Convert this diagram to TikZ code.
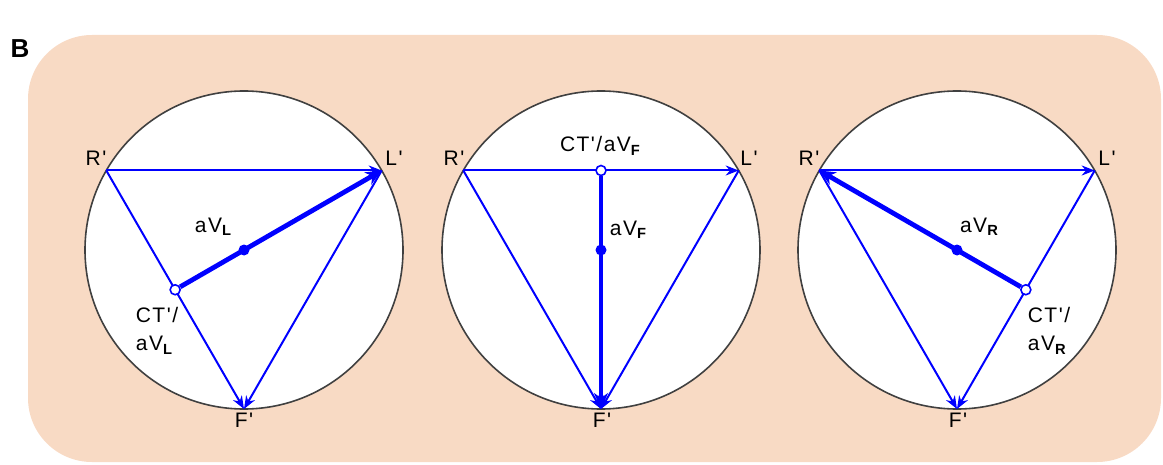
\documentclass[tikz,border=0pt]{standalone}
\usepackage{fontspec}
\setmainfont{Liberation Sans}[Ligatures=TeXOff]
\newfontfamily\lblfont{Liberation Sans}[Ligatures=TeXOff, LetterSpace=7]
\usepackage{xcolor}
\definecolor{peach}{RGB}{248,218,196}
\definecolor{vecblue}{RGB}{0,0,255}
\usetikzlibrary{arrows.meta, positioning, calc}

\begin{document}
\begin{tikzpicture}[x=0.5pt, y=-0.5pt,
    ring/.style={draw=black!75, line width=0.8pt, fill=white},
    side/.style={draw=vecblue, line width=1pt, -{Stealth[length=6.5pt, width=5pt]}},
    axis/.style={draw=vecblue, line width=2.4pt, -{Stealth[length=8pt, width=7pt]}},
    ctdot/.style={circle, draw=vecblue, fill=white, line width=0.8pt,
      inner sep=0pt, minimum size=5pt},
    middot/.style={circle, fill=vecblue, inner sep=0pt, minimum size=5.5pt},
    lbl/.style={font=\lblfont\fontsize{10.5}{14}\selectfont, inner sep=0pt, align=left}
]
\useasboundingbox (0,0) rectangle (1163,465);
\fill[peach, rounded corners=32pt] (28,35) rectangle (1161,462);
\node[font=\fontsize{13}{15}\selectfont\bfseries] (panel) at (20,49) {B};

% left: CT' on R'F'
\coordinate (c1) at (244,250);
\coordinate (R1) at ($(c1)+(210:159)$);
\coordinate (L1) at ($(c1)+(330:159)$);
\coordinate (F1) at ($(c1)+(90:159)$);
\coordinate (m1) at ($(R1)!0.5!(F1)$);
\draw[ring] (c1) circle[radius=159];
\draw[side] (R1) -- (L1);
\draw[side] (R1) -- (F1);
\draw[side] (L1) -- (F1);
\node[ctdot] (ct1) at (m1) {};
\draw[axis] (ct1) -- (L1);
\node[middot] (o1) at (c1) {};
\node[lbl] (r1) at (96,158) {R'};
\node[lbl] (l1) at (394,158) {L'};
\node[lbl] (f1) at (244,420) {F'};
\node[lbl] (v1) at (214,227) {aV\textsubscript{\textbf{L}}};
\node[lbl] (t1) at (157,331) {CT'/\\aV\textsubscript{\textbf{L}}};

% middle: CT' on R'L'
\coordinate (c2) at (601,250);
\coordinate (R2) at ($(c2)+(210:159)$);
\coordinate (L2) at ($(c2)+(330:159)$);
\coordinate (F2) at ($(c2)+(90:159)$);
\coordinate (m2) at ($(R2)!0.5!(L2)$);
\draw[ring] (c2) circle[radius=159];
\draw[side] (R2) -- (L2);
\draw[side] (R2) -- (F2);
\draw[side] (L2) -- (F2);
\node[ctdot] (ct2) at (m2) {};
\draw[axis] (ct2) -- (F2);
\node[middot] (o2) at (c2) {};
\node[lbl] (r2) at (454,158) {R'};
\node[lbl] (l2) at (749,158) {L'};
\node[lbl] (f2) at (602,420) {F'};
\node[lbl] (v2) at (629,230) {aV\textsubscript{\textbf{F}}};
\node[lbl] (t2) at (601,146) {CT'/aV\textsubscript{\textbf{F}}};

% right: CT' on L'F'
\coordinate (c3) at (957,250);
\coordinate (R3) at ($(c3)+(210:159)$);
\coordinate (L3) at ($(c3)+(330:159)$);
\coordinate (F3) at ($(c3)+(90:159)$);
\coordinate (m3) at ($(L3)!0.5!(F3)$);
\draw[ring] (c3) circle[radius=159];
\draw[side] (R3) -- (L3);
\draw[side] (R3) -- (F3);
\draw[side] (L3) -- (F3);
\node[ctdot] (ct3) at (m3) {};
\draw[axis] (ct3) -- (R3);
\node[middot] (o3) at (c3) {};
\node[lbl] (r3) at (809,158) {R'};
\node[lbl] (l3) at (1107,158) {L'};
\node[lbl] (f3) at (958,420) {F'};
\node[lbl] (v3) at (980,227) {aV\textsubscript{\textbf{R}}};
\node[lbl] (t3) at (1049,331) {CT'/\\aV\textsubscript{\textbf{R}}};
\end{tikzpicture}
\end{document}
